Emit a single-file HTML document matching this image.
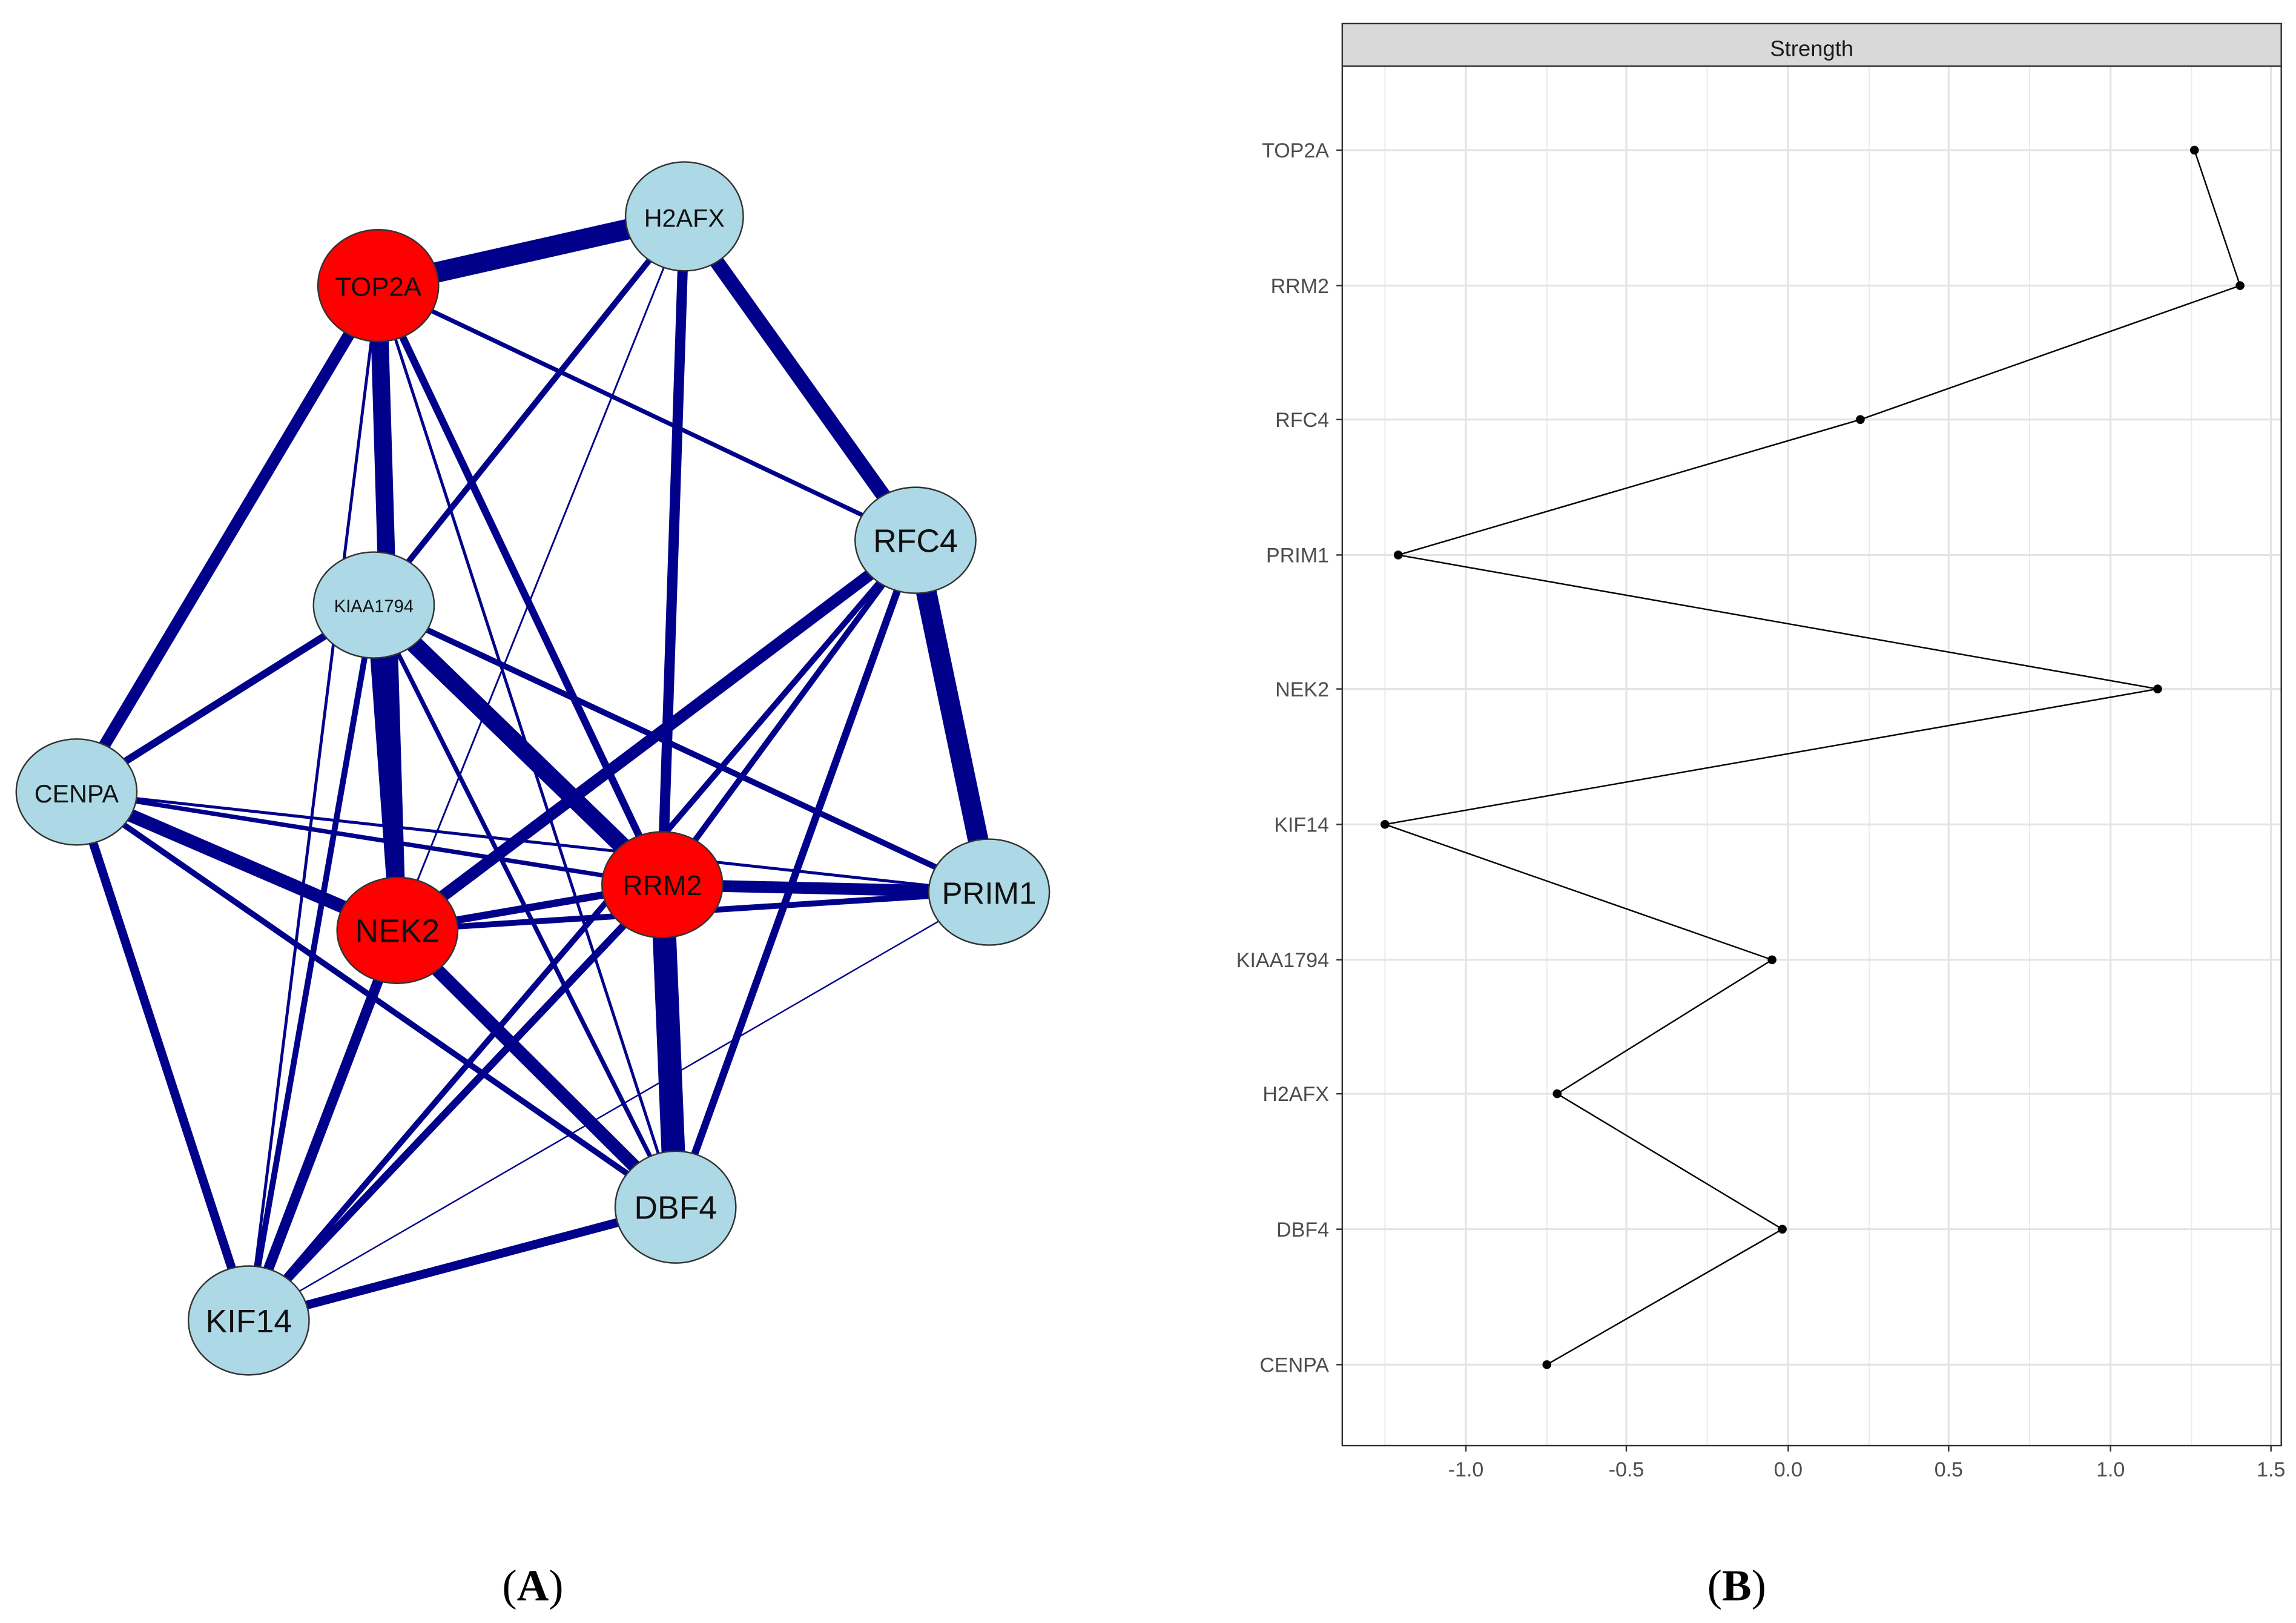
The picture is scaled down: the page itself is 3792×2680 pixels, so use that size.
<!DOCTYPE html>
<html><head><meta charset="utf-8"><style>html,body{margin:0;padding:0;background:#fff}svg{display:block}</style></head><body>
<svg width="3792" height="2680" viewBox="0 0 1560 1102.5" xmlns="http://www.w3.org/2000/svg" font-family="Liberation Sans, sans-serif">
<rect width="1560" height="1103" fill="#fff"/>
<g stroke="#00008b" stroke-linecap="butt">
<line x1="257" y1="194" x2="465" y2="147" stroke-width="14"/>
<line x1="257" y1="194" x2="52" y2="538" stroke-width="8"/>
<line x1="257" y1="194" x2="270" y2="632" stroke-width="12"/>
<line x1="257" y1="194" x2="450" y2="601" stroke-width="5"/>
<line x1="257" y1="194" x2="622" y2="367" stroke-width="3"/>
<line x1="257" y1="194" x2="459" y2="820" stroke-width="2"/>
<line x1="257" y1="194" x2="169" y2="897" stroke-width="2"/>
<line x1="465" y1="147" x2="622" y2="367" stroke-width="10"/>
<line x1="465" y1="147" x2="450" y2="601" stroke-width="7"/>
<line x1="465" y1="147" x2="254" y2="411" stroke-width="4"/>
<line x1="465" y1="147" x2="270" y2="632" stroke-width="1.2"/>
<line x1="622" y1="367" x2="672" y2="606" stroke-width="14"/>
<line x1="622" y1="367" x2="270" y2="632" stroke-width="8"/>
<line x1="622" y1="367" x2="450" y2="601" stroke-width="4"/>
<line x1="622" y1="367" x2="459" y2="820" stroke-width="5"/>
<line x1="254" y1="411" x2="450" y2="601" stroke-width="12"/>
<line x1="254" y1="411" x2="672" y2="606" stroke-width="4"/>
<line x1="254" y1="411" x2="52" y2="538" stroke-width="5"/>
<line x1="254" y1="411" x2="270" y2="632" stroke-width="10"/>
<line x1="254" y1="411" x2="169" y2="897" stroke-width="4"/>
<line x1="254" y1="411" x2="459" y2="820" stroke-width="3"/>
<line x1="52" y1="538" x2="450" y2="601" stroke-width="3"/>
<line x1="52" y1="538" x2="672" y2="606" stroke-width="2"/>
<line x1="52" y1="538" x2="270" y2="632" stroke-width="9"/>
<line x1="52" y1="538" x2="459" y2="820" stroke-width="4"/>
<line x1="52" y1="538" x2="169" y2="897" stroke-width="6"/>
<line x1="270" y1="632" x2="450" y2="601" stroke-width="5"/>
<line x1="270" y1="632" x2="672" y2="606" stroke-width="4"/>
<line x1="270" y1="632" x2="459" y2="820" stroke-width="9"/>
<line x1="270" y1="632" x2="169" y2="897" stroke-width="7"/>
<line x1="450" y1="601" x2="672" y2="606" stroke-width="8"/>
<line x1="450" y1="601" x2="459" y2="820" stroke-width="16"/>
<line x1="450" y1="601" x2="169" y2="897" stroke-width="5"/>
<line x1="672" y1="606" x2="169" y2="897" stroke-width="1"/>
<line x1="622" y1="367" x2="169" y2="897" stroke-width="4"/>
<line x1="169" y1="897" x2="459" y2="820" stroke-width="6"/>
</g>
<g stroke="#333" stroke-width="1" font-size="19" text-anchor="middle" fill="#111">
<ellipse cx="257" cy="194" rx="41" ry="38" fill="#f00"/>
<ellipse cx="465" cy="147" rx="40" ry="37" fill="#add8e6"/>
<ellipse cx="622" cy="367" rx="41" ry="36" fill="#add8e6"/>
<ellipse cx="254" cy="411" rx="41" ry="36" fill="#add8e6"/>
<ellipse cx="52" cy="538" rx="41" ry="36" fill="#add8e6"/>
<ellipse cx="672" cy="606" rx="41" ry="36" fill="#add8e6"/>
<ellipse cx="450" cy="601" rx="41" ry="36" fill="#f00"/>
<ellipse cx="270" cy="632" rx="41" ry="36" fill="#f00"/>
<ellipse cx="459" cy="820" rx="41" ry="38" fill="#add8e6"/>
<ellipse cx="169" cy="897" rx="41" ry="37" fill="#add8e6"/>
<g stroke="none">
<text x="257" y="201" font-size="18">TOP2A</text>
<text x="465" y="154" font-size="17">H2AFX</text>
<text x="622" y="375" font-size="22">RFC4</text>
<text x="254" y="416" font-size="12">KIAA1794</text>
<text x="52" y="545" font-size="17">CENPA</text>
<text x="672" y="614" font-size="21">PRIM1</text>
<text x="450" y="608" font-size="19">RRM2</text>
<text x="270" y="640" font-size="22">NEK2</text>
<text x="459" y="828" font-size="22">DBF4</text>
<text x="169" y="905" font-size="22">KIF14</text>
</g></g>
<rect x="912" y="16" width="638" height="29" fill="#d9d9d9" stroke="#333" stroke-width="1"/>
<text x="1231" y="38" font-size="15" text-anchor="middle" fill="#1a1a1a">Strength</text>
<rect x="912" y="45" width="638" height="937" fill="#fff"/>
<g stroke="#ebebeb" stroke-width="0.8">
<line x1="941" y1="45" x2="941" y2="982"/><line x1="1051" y1="45" x2="1051" y2="982"/><line x1="1160" y1="45" x2="1160" y2="982"/><line x1="1270" y1="45" x2="1270" y2="982"/><line x1="1379" y1="45" x2="1379" y2="982"/><line x1="1489" y1="45" x2="1489" y2="982"/>
</g>
<g stroke="#e4e4e4" stroke-width="1.3">
<line x1="996" y1="45" x2="996" y2="982"/><line x1="1105" y1="45" x2="1105" y2="982"/><line x1="1215" y1="45" x2="1215" y2="982"/><line x1="1324" y1="45" x2="1324" y2="982"/><line x1="1434" y1="45" x2="1434" y2="982"/><line x1="1543" y1="45" x2="1543" y2="982"/>
<line x1="912" y1="102" x2="1550" y2="102"/><line x1="912" y1="194" x2="1550" y2="194"/><line x1="912" y1="285" x2="1550" y2="285"/><line x1="912" y1="377" x2="1550" y2="377"/><line x1="912" y1="468" x2="1550" y2="468"/><line x1="912" y1="560" x2="1550" y2="560"/><line x1="912" y1="652" x2="1550" y2="652"/><line x1="912" y1="743" x2="1550" y2="743"/><line x1="912" y1="835" x2="1550" y2="835"/><line x1="912" y1="927" x2="1550" y2="927"/>
</g>
<rect x="912" y="45" width="638" height="937" fill="none" stroke="#333" stroke-width="1"/>
<polyline points="1491,102 1522,194 1264,285 950,377 1466,468 941,560 1204,652 1058,743 1211,835 1051,927" fill="none" stroke="#000" stroke-width="1"/>
<g fill="#000"><circle cx="1491" cy="102" r="3"/><circle cx="1522" cy="194" r="3"/><circle cx="1264" cy="285" r="3"/><circle cx="950" cy="377" r="3"/><circle cx="1466" cy="468" r="3"/><circle cx="941" cy="560" r="3"/><circle cx="1204" cy="652" r="3"/><circle cx="1058" cy="743" r="3"/><circle cx="1211" cy="835" r="3"/><circle cx="1051" cy="927" r="3"/></g>
<g font-size="14" fill="#4d4d4d" text-anchor="end">
<text x="903" y="107">TOP2A</text><text x="903" y="199">RRM2</text><text x="903" y="290">RFC4</text><text x="903" y="382">PRIM1</text><text x="903" y="473">NEK2</text><text x="903" y="565">KIF14</text><text x="903" y="657">KIAA1794</text><text x="903" y="748">H2AFX</text><text x="903" y="840">DBF4</text><text x="903" y="932">CENPA</text>
</g>
<g stroke="#333"><line x1="908" y1="102" x2="912" y2="102"/><line x1="908" y1="194" x2="912" y2="194"/><line x1="908" y1="285" x2="912" y2="285"/><line x1="908" y1="377" x2="912" y2="377"/><line x1="908" y1="468" x2="912" y2="468"/><line x1="908" y1="560" x2="912" y2="560"/><line x1="908" y1="652" x2="912" y2="652"/><line x1="908" y1="743" x2="912" y2="743"/><line x1="908" y1="835" x2="912" y2="835"/><line x1="908" y1="927" x2="912" y2="927"/>
<line x1="996" y1="982" x2="996" y2="986"/><line x1="1105" y1="982" x2="1105" y2="986"/><line x1="1215" y1="982" x2="1215" y2="986"/><line x1="1324" y1="982" x2="1324" y2="986"/><line x1="1434" y1="982" x2="1434" y2="986"/><line x1="1543" y1="982" x2="1543" y2="986"/></g>
<g font-size="14" fill="#4d4d4d" text-anchor="middle">
<text x="996" y="1003">-1.0</text><text x="1105" y="1003">-0.5</text><text x="1215" y="1003">0.0</text><text x="1324" y="1003">0.5</text><text x="1434" y="1003">1.0</text><text x="1543" y="1003">1.5</text>
</g>
<g font-family="Liberation Serif, serif" font-size="30" text-anchor="middle" fill="#000">
<text x="362" y="1087">(<tspan font-weight="bold">A</tspan>)</text>
<text x="1180" y="1087">(<tspan font-weight="bold">B</tspan>)</text>
</g>
</svg>
</body></html>
